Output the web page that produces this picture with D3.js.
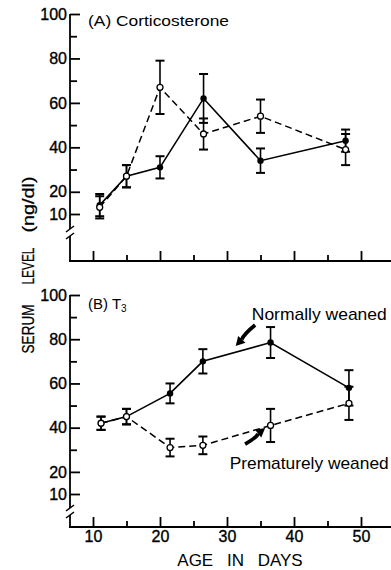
<!DOCTYPE html>
<html>
<head>
<meta charset="utf-8">
<style>
  body { margin: 0; background: #fff; }
  svg { font-family: "Liberation Sans", Arial, Helvetica, sans-serif; }
</style>
</head>
<body>
<svg id="chart" width="391" height="570"></svg>
<script src="https://d3js.org/d3.v7.min.js"></script>
<script>
// (A) corticosterone, ng/dl
var cortDays = [11, 15, 20, 26.5, 35, 47.7];
var cortNormal = [14, 27, 31, 62, 34, 43];
var cortNormalErr = [5, 5, 5, 11, 5.5, 5];
var cortPremature = [13, 27, 67, 46, 54, 39];
var cortPrematureErr = [5, 5, 12, 7, 7.5, 7];

// (B) T3
var t3Days = [11.2, 15, 21.5, 26.4, 36.5, 48.2];
var t3Normal = [42, 45, 55.5, 70, 78.5, 58];
var t3NormalErr = [3, 3.5, 4.5, 5.5, 7, 8];
var t3Premature = [42, 45, 31, 32, 41, 51];
var t3PrematureErr = [3, 3.5, 4, 4, 7.5, 7.5];

var levelMajor = [10, 20, 40, 60, 80, 100];
var levelMinor = [30, 50, 70, 90];
var dayMajor = [10, 20, 30, 40, 50];
var dayMinor = [15, 25, 35, 45];

var svg = d3.select("#chart");
var axisX = 70;
var x = d3.scaleLinear().domain([10, 50]).range([93, 361]);

function zip(days, vals, errs) {
    return days.map(function (d, i) { return {day: d, v: vals[i], e: errs[i]}; });
}

function drawPanel(bottom, baseY, breakY, normal, premature, y) {
    var g = svg.append("g");

    // y axis with break
    g.append("line").attr("x1", axisX).attr("x2", axisX)
        .attr("y1", y(100)).attr("y2", breakY - 3)
        .attr("stroke", "#000").attr("stroke-width", 1.8);
    g.append("line").attr("x1", axisX).attr("x2", axisX)
        .attr("y1", breakY + 4).attr("y2", baseY)
        .attr("stroke", "#000").attr("stroke-width", 1.8);
    [-3, 4].forEach(function (o) {
        g.append("line")
            .attr("x1", axisX - 4).attr("y1", breakY + o + 3)
            .attr("x2", axisX + 4).attr("y2", breakY + o - 3)
            .attr("stroke", "#000").attr("stroke-width", 1.5);
    });

    var yMaj = g.append("g").attr("transform", "translate(" + axisX + ",0)")
        .call(d3.axisLeft(y).tickValues(levelMajor).tickSizeInner(-10).tickSizeOuter(0).tickPadding(3));
    var yMin = g.append("g").attr("transform", "translate(" + axisX + ",0)")
        .call(d3.axisLeft(y).tickValues(levelMinor).tickSizeInner(-7).tickSizeOuter(0).tickFormat(""));

    // x axis
    g.append("line").attr("x1", axisX - 1).attr("x2", 391)
        .attr("y1", baseY).attr("y2", baseY)
        .attr("stroke", "#000").attr("stroke-width", 1.8);
    var xMaj = g.append("g").attr("transform", "translate(0," + baseY + ")")
        .call(d3.axisBottom(x).tickValues(dayMajor).tickSizeInner(-10).tickSizeOuter(0).tickPadding(4)
            .tickFormat(bottom ? d3.format("d") : ""));
    var xMin = g.append("g").attr("transform", "translate(0," + baseY + ")")
        .call(d3.axisBottom(x).tickValues(dayMinor).tickSizeInner(-6).tickSizeOuter(0).tickFormat(""));

    [yMaj, yMin, xMaj, xMin].forEach(function (a) {
        a.select(".domain").remove();
        a.selectAll(".tick line").attr("stroke", "#000").attr("stroke-width", 1.8);
        a.selectAll(".tick text").attr("fill", "#000").attr("font-size", 16)
            .attr("stroke", "#000").attr("stroke-width", 0.35)
            .attr("font-family", "Liberation Sans, Arial, sans-serif");
    });

    var line = d3.line().x(function (d) { return x(d.day); }).y(function (d) { return y(d.v); });

    g.append("path").datum(premature).attr("d", line)
        .attr("fill", "none").attr("stroke", "#000").attr("stroke-width", 1.5)
        .attr("stroke-dasharray", "7,4");
    g.append("path").datum(normal).attr("d", line)
        .attr("fill", "none").attr("stroke", "#000").attr("stroke-width", 1.6);

    [normal, premature].forEach(function (series) {
        var eb = g.append("g").selectAll("g").data(series).enter().append("g")
            .attr("stroke", "#000").attr("stroke-width", 1.6);
        eb.append("line")
            .attr("x1", function (d) { return x(d.day); }).attr("x2", function (d) { return x(d.day); })
            .attr("y1", function (d) { return y(d.v + d.e); }).attr("y2", function (d) { return y(d.v - d.e); });
        [1, -1].forEach(function (s) {
            eb.append("line")
                .attr("x1", function (d) { return x(d.day) - 4.5; })
                .attr("x2", function (d) { return x(d.day) + 4.5; })
                .attr("y1", function (d) { return y(d.v + s * d.e); })
                .attr("y2", function (d) { return y(d.v + s * d.e); })
                .attr("stroke-width", 2);
        });
    });

    g.append("g").selectAll("circle").data(normal).enter().append("circle")
        .attr("cx", function (d) { return x(d.day); }).attr("cy", function (d) { return y(d.v); })
        .attr("r", 3.2).attr("fill", "#000");
    g.append("g").selectAll("circle").data(premature).enter().append("circle")
        .attr("cx", function (d) { return x(d.day); }).attr("cy", function (d) { return y(d.v); })
        .attr("r", 3).attr("fill", "#fff").attr("stroke", "#000").attr("stroke-width", 1.3);

    return g;
}

// panel A
var yA = d3.scaleLinear().domain([10, 100]).range([214, 14]);
var gA = drawPanel(false, 261, 232,
    zip(cortDays, cortNormal, cortNormalErr), zip(cortDays, cortPremature, cortPrematureErr), yA);
gA.append("text").attr("x", 88).attr("y", 26).attr("font-size", 15)
    .attr("textLength", 141).attr("lengthAdjust", "spacingAndGlyphs")
    .text("(A) Corticosterone");

// panel B
var yB = d3.scaleLinear().domain([10, 100]).range([494, 295]);
var gB = drawPanel(true, 527, 511,
    zip(t3Days, t3Normal, t3NormalErr), zip(t3Days, t3Premature, t3PrematureErr), yB);
var bl = gB.append("text").attr("x", 88).attr("y", 309).attr("font-size", 15);
bl.append("tspan").text("(B) T");
bl.append("tspan").attr("font-size", 10).attr("dy", 3).text("3");

// annotations (data coordinates of panel B)
function arrow(g, fromDay, fromV, toDay, toV) {
    var x0 = x(fromDay), y0 = yB(fromV), x1 = x(toDay), y1 = yB(toV);
    var dx = x1 - x0, dy = y1 - y0, len = Math.sqrt(dx * dx + dy * dy);
    var ux = dx / len, uy = dy / len, px = -uy, py = ux;
    var bx = x1 - ux * 9, by = y1 - uy * 9;
    g.append("path")
        .attr("d", "M" + x0 + "," + y0 + "Q" + (x0 + dx * 0.5 + px * 2) + "," + (y0 + dy * 0.5 + py * 2) + " " + bx + "," + by)
        .attr("fill", "none").attr("stroke", "#000").attr("stroke-width", 3.8);
    g.append("path")
        .attr("d", "M" + x1 + "," + y1 + "L" + (bx + px * 5) + "," + (by + py * 5) + "L" + (bx - px * 5) + "," + (by - py * 5) + "Z")
        .attr("fill", "#000");
}
arrow(gB, 34.2, 86.4, 31.3, 76.9);
arrow(gB, 32.7, 32.6, 35.7, 39.8);
gB.append("text").attr("x", x(33.7)).attr("y", yB(88.7)).attr("font-size", 17)
    .attr("textLength", 135).attr("lengthAdjust", "spacingAndGlyphs").text("Normally weaned");
gB.append("text").attr("x", x(30.4)).attr("y", yB(21.3)).attr("font-size", 17)
    .attr("textLength", 159).attr("lengthAdjust", "spacingAndGlyphs").text("Prematurely weaned");

// axis titles
svg.append("text").attr("x", 240).attr("y", 566).attr("text-anchor", "middle")
    .attr("font-size", 17).attr("word-spacing", 9).text("AGE IN DAYS");

// rotated y title, each word stretched along its reading direction
[["SERUM", 329, 0.82], ["LEVEL", 266, 0.72], ["(ng/dl)", 204.5, 1.2]].forEach(function (w) {
    svg.append("text")
        .attr("transform", "translate(33.5," + w[1] + ") rotate(-90) scale(" + w[2] + ",1)")
        .attr("text-anchor", "middle").attr("font-size", 16.5)
        .attr("stroke", "#000").attr("stroke-width", 0.25)
        .text(w[0]);
});
</script>
</body>
</html>
